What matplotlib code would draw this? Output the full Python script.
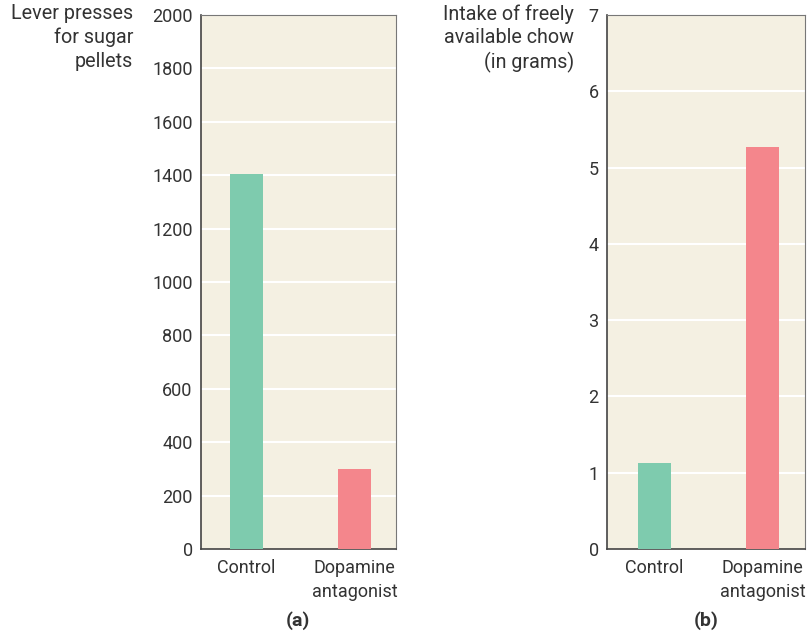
import matplotlib
matplotlib.use("Agg")
import matplotlib.pyplot as plt
from matplotlib import font_manager

categories = ["Control", "Dopamine\nantagonist"]
lever_presses = [1405, 300]
chow_intake = [1.13, 5.27]
yticks_a = [0, 200, 400, 600, 800, 1000, 1200, 1400, 1600, 1800, 2000]
yticks_b = [0, 1, 2, 3, 4, 5, 6, 7]
colors = ["#7ecbae", "#f4868c"]

names = {f.name for f in font_manager.fontManager.ttflist}
fam = "Roboto" if "Roboto" in names else "DejaVu Sans"
plt.rcParams["font.family"] = [fam, "DejaVu Sans"]

fig = plt.figure(figsize=(8.08, 6.33), dpi=100)
W, H = 808, 633
bg = "#f4f0e2"
txt = "#333333"

def make(ax_px, vals, yt, ymax, xl):
    x0, y0, x1, y1 = ax_px
    ax = fig.add_axes([x0 / W, 1 - y1 / H, (x1 - x0) / W, (y1 - y0) / H])
    ax.set_facecolor(bg)
    ax.bar(range(len(vals)), vals, width=0.305, color=colors, zorder=3)
    ax.set_xlim(*xl)
    ax.set_ylim(0, ymax)
    ax.set_yticks(yt)
    for v in yt[1:-1]:
        ax.axhline(v, color="white", lw=1.5, zorder=1)
    ax.set_xticks(range(len(vals)))
    ax.set_xticklabels(categories, fontsize=13, color=txt, linespacing=1.45)
    ax.tick_params(axis="both", length=0, labelsize=13, labelcolor=txt)
    ax.tick_params(axis="y", pad=6)
    ax.tick_params(axis="x", pad=7)
    for s in ["left", "bottom"]:
        ax.spines[s].set_color("#444444")
        ax.spines[s].set_linewidth(1.2)
    for s in ["top", "right"]:
        ax.spines[s].set_color("#777777")
        ax.spines[s].set_linewidth(0.8)
    return ax

axa = make((201, 15, 396, 549), lever_presses, yticks_a, 2000, (-0.42, 1.384))
axb = make((607, 15, 805, 549), chow_intake, yticks_b, 7, (-0.44, 1.39))

fig.text(133 / W, 1 - 4 / H, "Lever presses\nfor sugar\npellets", ha="right", va="top",
         fontsize=14.2, color=txt, linespacing=1.3)
fig.text(574 / W, 1 - 4 / H, "Intake of freely\navailable chow\n(in grams)", ha="right", va="top",
         fontsize=14.2, color=txt, linespacing=1.3)
fig.text(298 / W, 1 - 621 / H, "(a)", ha="center", va="center", fontsize=14,
         fontweight="bold", color=txt)
fig.text(706 / W, 1 - 621 / H, "(b)", ha="center", va="center", fontsize=14,
         fontweight="bold", color=txt)

fig.savefig("out.png", dpi=100, facecolor="white")
